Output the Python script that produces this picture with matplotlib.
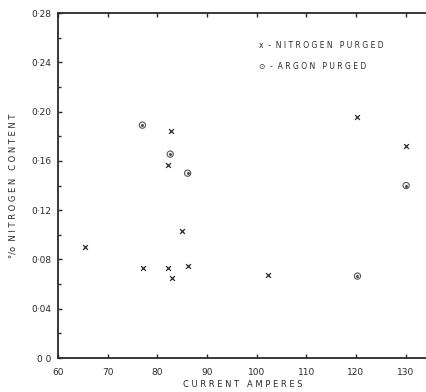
import matplotlib
matplotlib.use("Agg")
import matplotlib.pyplot as plt
from matplotlib.ticker import MultipleLocator, FixedLocator, FixedFormatter

# Data
nitrogen_x = [65.5, 77.2, 82.2, 82.9, 84.9, 86.1, 82.8, 82.2, 102.2, 120.2, 130.1]
nitrogen_y = [0.090, 0.073, 0.073, 0.065, 0.103, 0.075, 0.184, 0.157, 0.067, 0.196, 0.172]
argon_x = [77.0, 82.6, 86.1, 120.3, 130.1]
argon_y = [0.189, 0.1655, 0.150, 0.0665, 0.140]

x_ticks = [60, 70, 80, 90, 100, 110, 120, 130]
x_ticklabels = ["60", "70", "80", "90", "100", "110", "120", "130"]
y_ticks = [0.0, 0.04, 0.08, 0.12, 0.16, 0.20, 0.24, 0.28]
y_ticklabels = ["0 0", "0·04", "0·08", "0·12", "0·16", "0·20", "0·24", "0·28"]

ink = "#2a2a2a"
plt.rcParams['font.family'] = ['DejaVu Sans']

fig = plt.figure(figsize=(4.27, 3.92), dpi=100)
ax = fig.add_axes([0.1358, 0.0867, 0.8642, 0.880])

ax.scatter(nitrogen_x, nitrogen_y, marker="x", s=12, color=ink, linewidths=0.9, zorder=3)
ax.scatter(argon_x, argon_y, marker="o", s=20, facecolors="none", edgecolors="#555555", linewidths=0.8, zorder=3)
ax.scatter(argon_x, argon_y, marker="o", s=1.5, color="#555555", zorder=3)

ax.set_xlim(60, 134.3)
ax.set_ylim(0, 0.28)

ax.xaxis.set_major_locator(FixedLocator(x_ticks))
ax.xaxis.set_major_formatter(FixedFormatter(x_ticklabels))
ax.yaxis.set_major_locator(FixedLocator(y_ticks))
ax.yaxis.set_major_formatter(FixedFormatter(y_ticklabels))
ax.yaxis.set_minor_locator(MultipleLocator(0.02))

ax.spines["right"].set_visible(False)
for s in ["left", "bottom", "top"]:
    ax.spines[s].set_linewidth(1.3)
    ax.spines[s].set_color(ink)

ax.tick_params(axis="both", which="major", direction="in", length=3, width=1,
               colors=ink, labelsize=6.5, top=True, right=False, pad=5)
ax.tick_params(axis="y", which="minor", direction="in", length=2, width=1, colors=ink)
ax.tick_params(axis="x", pad=7)

ax.set_ylabel("°/o  N I T R O G E N   C O N T E N T", fontsize=6, color=ink, labelpad=10)
ax.set_xlabel("C U R R E N T   A M P E R E S", fontsize=6, color=ink, labelpad=2)

ax.text(0.545, 0.905, "x  -  N I T R O G E N   P U R G E D", transform=ax.transAxes,
        fontsize=5.5, color=ink, va="center", ha="left")
ax.text(0.545, 0.845, "⊙  -  A R G O N   P U R G E D", transform=ax.transAxes,
        fontsize=5.5, color=ink, va="center", ha="left")

fig.savefig("out.png", dpi=100, facecolor="white")
